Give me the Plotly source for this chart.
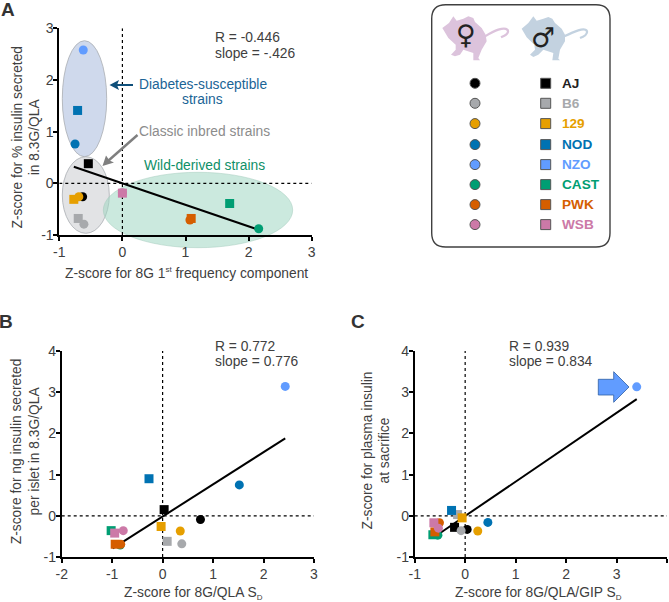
import plotly.graph_objects as go

W, H = 669, 602
strains = ["AJ", "B6", "129", "NOD", "NZO", "CAST", "PWK", "WSB"]
colors = ["#000000", "#a7a9ac", "#e69f00", "#0072b2", "#619cff", "#009e73", "#d55e00", "#cc79a7"]

# Panel A (female = circle, male = square)
a_f_x = [-0.63, -0.61, -0.69, -0.75, -0.62, 2.16, 1.07, 0.00]
a_f_y = [-0.26, -0.79, -0.26, 0.76, 2.58, -0.88, -0.71, -0.18]
a_m_x = [-0.54, -0.70, -0.77, -0.71, None, 1.70, 1.09, 0.00]
a_m_y = [0.38, -0.68, -0.31, 1.41, None, -0.39, -0.68, -0.19]
a_fit_x = [-0.77, 2.16]
a_fit_y = [0.32, -0.90]

# Panel B
b_f_x = [0.75, 0.38, 0.35, 1.52, 2.43, -0.84, -0.83, -0.78]
b_f_y = [-0.09, -0.68, -0.37, 0.75, 3.14, -0.71, -0.69, -0.36]
b_m_x = [0.03, 0.09, -0.03, -0.27, None, -1.02, -0.94, -0.95]
b_m_y = [0.15, -0.62, -0.26, 0.90, None, -0.36, -0.69, -0.42]
b_fit_x = [-0.99, 2.43]
b_fit_y = [-0.79, 1.88]

# Panel C
c_f_x = [0.04, -0.08, 0.25, 0.45, 3.40, -0.54, -0.51, -0.53]
c_f_y = [-0.33, -0.36, -0.37, -0.16, 3.13, -0.47, -0.17, -0.30]
c_m_x = [-0.21, -0.15, -0.06, -0.27, None, -0.64, -0.60, -0.62]
c_m_y = [-0.28, 0.03, -0.05, 0.13, None, -0.46, -0.39, -0.17]
c_fit_x = [-0.51, 3.40]
c_fit_y = [-0.43, 2.83]

FONT = "Liberation Sans"
TXT = "#404040"
TS = 13.8


def px(x):
    return x / W


def py(y):
    return 1 - y / H


fig = go.Figure()

panels = [
    ("x", "y", (59.3, 311.7), (28.3, 235.0), [-1, 3], [-1, 3],
     a_f_x, a_f_y, a_m_x, a_m_y, a_fit_x, a_fit_y),
    ("x2", "y2", (61.7, 314.0), (351.0, 557.0), [-2, 3], [-1, 4],
     b_f_x, b_f_y, b_m_x, b_m_y, b_fit_x, b_fit_y),
    ("x3", "y3", (414.7, 667.0), (351.0, 557.0), [-1, 4], [-1, 4],
     c_f_x, c_f_y, c_m_x, c_m_y, c_fit_x, c_fit_y),
]

layout = dict(
    width=W, height=H, margin=dict(l=0, r=0, t=0, b=0, autoexpand=False),
    paper_bgcolor="white", plot_bgcolor="rgba(0,0,0,0)",
    showlegend=False, font=dict(family=FONT, color=TXT, size=12),
)
shapes = []
annotations = []


def text(x, y, s, size=TS, color=TXT, angle=0, anchor="center", bold=False, family=FONT):
    annotations.append(dict(
        x=px(x), y=py(y), xref="paper", yref="paper", text=f"<b>{s}</b>" if bold else s,
        showarrow=False, xanchor=anchor, yanchor="middle", textangle=angle,
        font=dict(family=family, size=size, color=color),
    ))


def paper_ellipse(x0, x1, y0, y1, fill, line="#a9adb2", opacity=1.0):
    shapes.append(dict(
        type="circle", xref="paper", yref="paper", x0=px(x0), x1=px(x1), y0=py(y0), y1=py(y1),
        fillcolor=fill, line=dict(color=line, width=0.8), layer="below", opacity=opacity,
    ))


def paper_path(points, fill=None, color=None, width=0, closed=True, smooth=False, layer="below"):
    pts = [(px(x), py(y)) for x, y in points]
    d = f"M {pts[0][0]:.5f},{pts[0][1]:.5f} "
    if smooth:
        for i in range(1, len(pts) - 1):
            mx = (pts[i][0] + pts[i + 1][0]) / 2
            my = (pts[i][1] + pts[i + 1][1]) / 2
            d += f"Q {pts[i][0]:.5f},{pts[i][1]:.5f} {mx:.5f},{my:.5f} "
        d += f"L {pts[-1][0]:.5f},{pts[-1][1]:.5f}"
    else:
        d += " ".join(f"L {x:.5f},{y:.5f}" for x, y in pts[1:])
    if closed:
        d += " Z"
    s = dict(type="path", xref="paper", yref="paper", path=d, layer=layer,
             line=dict(color=color or "rgba(0,0,0,0)", width=width))
    if fill:
        s["fillcolor"] = fill
    shapes.append(s)


def tick_cfg(rng):
    vals = list(range(rng[0], rng[1] + 1))
    return dict(tickmode="array", tickvals=vals, ticktext=[str(v) for v in vals])


# ellipses (panel A)
paper_ellipse(62.3, 106.7, 40.7, 156.7, "#cfd9ec")
paper_ellipse(62.3, 109.3, 156.7, 233.3, "#e2e3e5")
paper_ellipse(103.3, 292.7, 172.3, 247.7, "rgba(160,215,195,0.55)", line="rgba(160,200,185,0.6)")

for (xa, ya, xpx, ypx, xr, yr, fx, fy, mx_, my_, lx, ly) in panels:
    common = dict(showgrid=False, zeroline=False, ticks="outside", ticklen=4, tickwidth=1.6,
                  showline=True, linecolor="#000000", linewidth=1.8, tickcolor="#000000",
                  tickfont=dict(family=FONT, size=14, color=TXT))
    suffix_x = xa[1:]
    suffix_y = ya[1:]
    layout["xaxis" + suffix_x] = dict(
        common, domain=[px(xpx[0]), px(xpx[1])], range=xr, anchor=ya, ticklabelstandoff=-1, **tick_cfg(xr))
    layout["yaxis" + suffix_y] = dict(
        common, domain=[py(ypx[1]), py(ypx[0])], range=yr, anchor=xa, ticklabelstandoff=-3, **tick_cfg(yr))
    # dotted zero lines
    shapes.append(dict(type="line", xref=xa, yref=ya, x0=xr[0], x1=xr[1], y0=0, y1=0,
                       line=dict(color="#000000", width=1.2, dash="dot"), layer="below"))
    shapes.append(dict(type="line", xref=xa, yref=ya, x0=0, x1=0, y0=yr[0], y1=yr[1],
                       line=dict(color="#000000", width=1.2, dash="dot"), layer="below"))
    fig.add_trace(go.Scatter(x=lx, y=ly, xaxis=xa, yaxis=ya, mode="lines",
                             line=dict(color="#000000", width=2), hoverinfo="skip"))
    for i, s in enumerate(strains):
        fig.add_trace(go.Scatter(
            x=[mx_[i], fx[i]], y=[my_[i], fy[i]], xaxis=xa, yaxis=ya, mode="markers", name=s,
            marker=dict(symbol=["square", "circle"], size=9, color=colors[i], line=dict(width=0)),
            cliponaxis=False,
        ))

# hidden overlay axis for the strain key, in fractions of the figure
layout["xaxis4"] = dict(domain=[0, 1], range=[0, W], visible=False, anchor="y4", fixedrange=True)
layout["yaxis4"] = dict(domain=[0, 1], range=[H, 0], visible=False, anchor="x4", fixedrange=True)

# key box
bx0, bx1, by0, by1, r = 431.7, 610.0, 4.7, 247.0, 14
shapes.append(dict(
    type="path", xref="paper", yref="paper", layer="below",
    path=(f"M {px(bx0 + r)},{py(by0)} L {px(bx1 - r)},{py(by0)} Q {px(bx1)},{py(by0)} {px(bx1)},{py(by0 + r)} "
          f"L {px(bx1)},{py(by1 - r)} Q {px(bx1)},{py(by1)} {px(bx1 - r)},{py(by1)} "
          f"L {px(bx0 + r)},{py(by1)} Q {px(bx0)},{py(by1)} {px(bx0)},{py(by1 - r)} "
          f"L {px(bx0)},{py(by0 + r)} Q {px(bx0)},{py(by0)} {px(bx0 + r)},{py(by0)} Z"),
    line=dict(color="#404040", width=1.4), fillcolor="white",
))

key_rows = [83.3, 103.3, 123.6, 144.6, 164.6, 184.6, 204.6, 224.6]
fig.add_trace(go.Scatter(x=[475.0] * 8, y=key_rows, xaxis="x4", yaxis="y4", mode="markers",
                         marker=dict(symbol="circle", size=10, color=colors,
                                     line=dict(color="#555555", width=1))))
fig.add_trace(go.Scatter(x=[545.7] * 8, y=key_rows, xaxis="x4", yaxis="y4", mode="markers",
                         marker=dict(symbol="square", size=10, color=colors,
                                     line=dict(color="#555555", width=1))))
for yy, s, c in zip(key_rows, strains, colors):
    text(560, yy, s, size=13.6, color="#222222" if s == "AJ" else c, anchor="left", bold=True)

# mice
f_body = [(22, 60), (42, 45), (55, 25), (65, 38), (85, 32), (100, 25), (115, 30), (120, 42), (140, 60),
          (152, 80), (155, 100), (140, 125), (130, 150), (135, 157), (115, 157), (115, 135), (85, 125),
          (75, 140), (60, 145), (48, 140), (62, 125), (62, 110), (40, 90), (22, 60)]
f_tail = [(150, 85), (175, 70), (205, 60), (220, 65), (218, 78), (198, 88)]
m_body = [(20, 62), (40, 45), (55, 25), (65, 38), (85, 32), (100, 27), (112, 32), (120, 45), (140, 62),
          (150, 80), (150, 100), (135, 125), (130, 152), (135, 157), (112, 157), (115, 135), (85, 125),
          (70, 140), (55, 147), (45, 140), (60, 125), (58, 110), (35, 88), (20, 62)]
m_tail = [(148, 85), (175, 72), (205, 62), (218, 68), (213, 82), (195, 90)]
FEM = "#dcc3dc"
MAL = "#c3d2e0"
paper_path([(435 + x / 3, 8 + y / 3) for x, y in f_body], fill=FEM)
paper_path([(435 + x / 3, 8 + y / 3) for x, y in f_tail], color=FEM, width=2.2, closed=False, smooth=True)
paper_path([(515 + x / 3, 8 + y / 3) for x, y in m_body], fill=MAL)
paper_path([(515 + x / 3, 8 + y / 3) for x, y in m_tail], color=MAL, width=2.2, closed=False, smooth=True)
text(465.5, 34, "♀", size=27, color="#222222", family="DejaVu Sans", bold=True)
text(543, 37, "♂", size=27, color="#222222", family="DejaVu Sans", bold=True)

# panel letters
text(8, 9, "A", size=19, color="#333333", bold=True)
text(6, 321, "B", size=19, color="#333333", bold=True)
text(358, 321, "C", size=19, color="#333333", bold=True)

# axis titles
SUB_D = '<sub><span style="font-size:8px">D</span></sub>'
SUP_ST = '<sup><span style="font-size:8px">st</span></sup>'
text(186.7, 272.5, f"Z-score for 8G 1{SUP_ST} frequency component")
text(25.5, 137, "Z-score for % insulin secreted<br>in 8.3G/QLA", angle=-90)
text(193.8, 593.5, f"Z-score for 8G/QLA S{SUB_D}")
text(25.5, 451.7, "Z-score for ng insulin secreted<br>per islet in 8.3G/QLA", angle=-90)
text(538, 593.5, f"Z-score for 8G/QLA/GIP S{SUB_D}")
text(375.5, 451, "Z-score for plasma insulin<br>at sacrifice", angle=-90)

# stats
text(212.5, 38, "R = -0.446", anchor="left")
text(212.5, 53.5, "slope = -.426", anchor="left")
text(212.5, 346, "R = 0.772", anchor="left")
text(212.5, 361.5, "slope = 0.776", anchor="left")
text(507, 346, "R = 0.939", anchor="left")
text(507, 361.5, "slope = 0.834", anchor="left")

# group labels and arrows
text(202.5, 84.5, "Diabetes-susceptible", color="#1a6496")
text(202.5, 100, "strains", color="#1a6496")
text(204, 131.5, "Classic inbred strains", color="#8c8c8c")
text(204.7, 165, "Wild-derived strains", color="#0f9068")
paper_path([(133, 85), (115, 85)], color="#0f4f7a", width=2, closed=False, layer="above")
paper_path([(109.5, 85), (119, 80), (117, 85), (119, 90)], fill="#0f4f7a", layer="above")
paper_path([(137.5, 135), (108, 161)], color="#7f7f7f", width=2.4, closed=False, layer="above")
paper_path([(102.5, 166), (106, 155.5), (109.5, 160.5), (114, 162.5)], fill="#7f7f7f", layer="above")

# block arrow (panel C)
paper_path([(598.3, 379.3), (613.7, 379.3), (613.7, 371.7), (629, 387), (613.7, 402.3), (613.7, 395), (598.3, 395)],
           fill="#619cff", color="#2f5fa5", width=0.8, layer="above")

layout["shapes"] = shapes
layout["annotations"] = annotations
fig.update_layout(**layout)
fig.write_html("out.html", config={"displayModeBar": False},
               post_script="document.body.style.margin='0';document.documentElement.style.overflow='hidden';")
